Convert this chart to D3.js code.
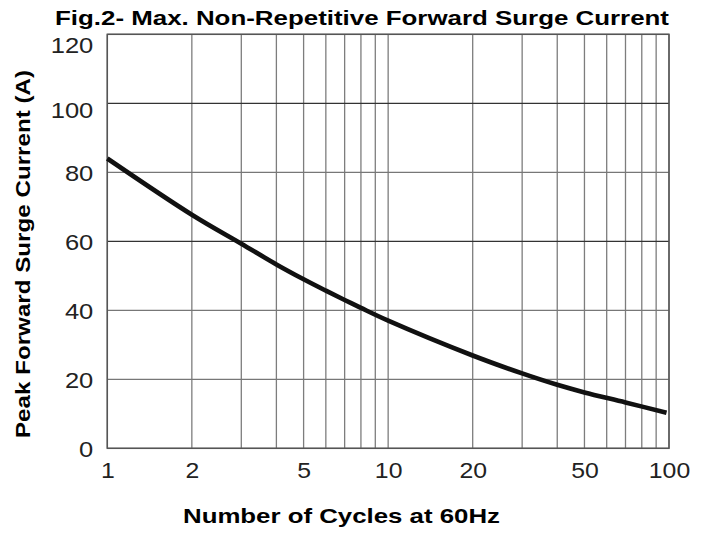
<!DOCTYPE html>
<html>
<head>
<meta charset="utf-8">
<script src="https://cdn.jsdelivr.net/npm/d3@7"></script>
<style>
  html, body { margin: 0; padding: 0; background: #fff; }
  svg { display: block; }
  text { font-family: "Liberation Sans", Arial, sans-serif; }
</style>
</head>
<body>
<svg id="chart" width="713" height="539"></svg>
<script>
// ---- data ----
const cycles  = [1, 2, 3, 4, 5, 6, 7, 8, 10, 20, 30, 40, 50, 70, 98];
const current = [84, 67.7, 59.3, 53.3, 49.0, 45.7, 43.0, 40.7, 37, 26.9, 21.7, 18.4, 16.2, 13.3, 10.3];
const xGrid = [1, 2, 3, 4, 5, 6, 7, 8, 9, 10, 20, 30, 40, 50, 60, 70, 80, 90, 100];
const xTickLabels = [1, 2, 5, 10, 20, 50, 100];
const yTicks = [0, 20, 40, 60, 80, 100, 120];
const titleText = "Fig.2- Max. Non-Repetitive Forward Surge Current";
const xTitle = "Number of Cycles at 60Hz";
const yTitle = "Peak Forward Surge Current (A)";

// ---- layout ----
const L = 107.3, R = 669, T = 34.3, B = 448.3;
const svg = d3.select("#chart");
const x = d3.scaleLog().domain([1, 100]).range([L, R]);
const y = d3.scaleLinear().domain([0, 120]).range([B, T]);

// grid
const g = svg.append("g");
g.selectAll("line.v").data(xGrid).enter().append("line")
  .attr("x1", d => x(d)).attr("x2", d => x(d))
  .attr("y1", T).attr("y2", B)
  .attr("stroke", "#7d7d7d").attr("stroke-width", 1.3);
g.selectAll("line.h").data(yTicks).enter().append("line")
  .attr("x1", L).attr("x2", R)
  .attr("y1", d => y(d)).attr("y2", d => y(d))
  .attr("stroke", d => (d === 100 || d === 60) ? "#333" : "#777")
  .attr("stroke-width", 1.3);
// frame
svg.append("rect").attr("x", L).attr("y", T).attr("width", R - L).attr("height", B - T)
  .attr("fill", "none").attr("stroke", "#555").attr("stroke-width", 1.5);

// axes via d3 axis generators, styled
const xAxis = d3.axisBottom(x).tickValues(xTickLabels).tickSize(0).tickPadding(0)
  .tickFormat(d3.format("d"));
const xa = svg.append("g").attr("transform", `translate(0,${B})`).call(xAxis);
xa.select(".domain").remove();
xa.selectAll("text")
  .attr("y", 30).attr("dy", 0)
  .attr("fill", "#222").style("font-size", "22px")
  .attr("textLength", d => String(d).length * 13.8)
  .attr("lengthAdjust", "spacingAndGlyphs");

const yAxis = d3.axisLeft(y).tickValues(yTicks).tickSize(0).tickPadding(0)
  .tickFormat(d3.format("d"));
const ya = svg.append("g").attr("transform", `translate(${L},0)`).call(yAxis);
ya.select(".domain").remove();
ya.selectAll("text")
  .attr("x", -14)
  .attr("y", d => d === 120 ? 10 : (d === 100 ? 6 : 0))
  .attr("dy", "0.36em")
  .attr("fill", "#222").style("font-size", "22px")
  .attr("textLength", d => String(d).length * 14.2)
  .attr("lengthAdjust", "spacingAndGlyphs");

// curve
const line = d3.line()
  .x((d, i) => x(cycles[i]))
  .y((d, i) => y(current[i]))
  .curve(d3.curveCatmullRom.alpha(0.5));
svg.append("path").datum(current)
  .attr("d", line)
  .attr("fill", "none").attr("stroke", "#111").attr("stroke-width", 4.6)
  .attr("stroke-linecap", "butt");

// titles
svg.append("text").attr("x", 362).attr("y", 24.5).attr("text-anchor", "middle")
  .style("font-size", "21px").style("font-weight", "bold").attr("fill", "#000")
  .attr("textLength", 614).attr("lengthAdjust", "spacingAndGlyphs")
  .text(titleText);
svg.append("text").attr("x", 341.5).attr("y", 523).attr("text-anchor", "middle")
  .style("font-size", "21px").style("font-weight", "bold").attr("fill", "#000")
  .attr("textLength", 317).attr("lengthAdjust", "spacingAndGlyphs")
  .text(xTitle);
svg.append("text").attr("transform", "translate(30,254) rotate(-90)")
  .attr("text-anchor", "middle")
  .style("font-size", "20px").style("font-weight", "bold").attr("fill", "#000")
  .attr("textLength", 368).attr("lengthAdjust", "spacingAndGlyphs")
  .text(yTitle);
</script>
</body>
</html>
